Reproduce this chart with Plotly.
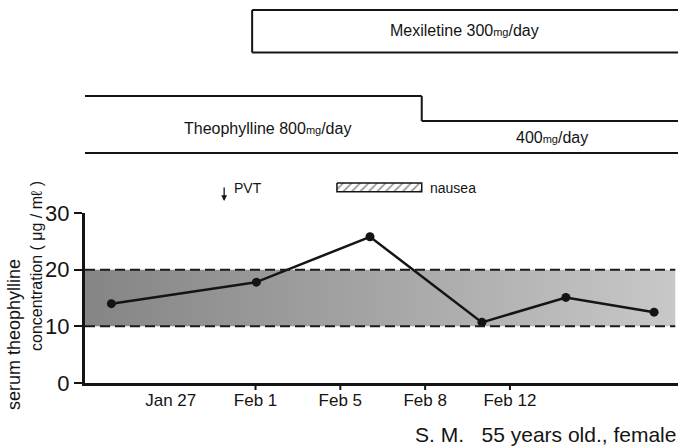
import plotly.graph_objects as go

# ---- data ----
tick_labels = ["Jan 27", "Feb 1", "Feb 5", "Feb 8", "Feb 12"]
tick_pos = [0, 1, 2, 3, 4]
sample_pos = [-0.70, 1.01, 2.35, 3.67, 4.66, 5.70]
theo_conc = [14.0, 17.8, 25.8, 10.7, 15.1, 12.5]
therapeutic_range = [10, 20]
y_ticks = [0, 10, 20, 30]
mexiletine_start = 0.96
theo_reduce = 2.96
pvt_pos = 0.63
nausea_span = [1.96, 2.96]

x_range = [-1.011, 5.982]
band_end = 5.95

W, H = 684, 448
ML, MR, MT, MB = 85, 6, 0, 65
PH = H - MT - MB  # 383


def py(p):
    return (PH - p) / PH


def px(p):
    return (p - ML) / (W - ML - MR)


NARROW = "Liberation Sans Narrow, Liberation Sans, Arial, sans-serif"
REG = "Liberation Sans, Arial, Helvetica, Noto Sans CJK JP, sans-serif"
INK = "#141414"

fig = go.Figure()

# therapeutic band with horizontal gradient
fig.add_trace(go.Scatter(
    x=[x_range[0], band_end, band_end, x_range[0], x_range[0]],
    y=[therapeutic_range[0], therapeutic_range[0], therapeutic_range[1], therapeutic_range[1], therapeutic_range[0]],
    mode="lines", line=dict(width=0), fill="toself",
    fillgradient=dict(type="horizontal",
                      colorscale=[[0, "#858585"], [0.45, "#a2a2a2"], [1, "#c8c8c8"]]),
    hoverinfo="skip", showlegend=False, xaxis="x", yaxis="y"))

# concentration line
fig.add_trace(go.Scatter(
    x=sample_pos, y=theo_conc, mode="lines+markers",
    line=dict(color=INK, width=2.5),
    marker=dict(color=INK, size=9),
    cliponaxis=False, showlegend=False, xaxis="x", yaxis="y"))

# nausea hatched box (on an invisible upper axis measured in pixels from top)
n_y0, n_y1 = 183, 191.7
fig.add_trace(go.Scatter(
    x=[nausea_span[0], nausea_span[1], nausea_span[1], nausea_span[0], nausea_span[0]],
    y=[n_y0, n_y0, n_y1, n_y1, n_y0],
    mode="lines", line=dict(color=INK, width=1.5), fill="toself",
    fillcolor="white",
    fillpattern=dict(shape="/", fgcolor=INK, bgcolor="white", size=6, solidity=0.25),
    hoverinfo="skip", showlegend=False, xaxis="x", yaxis="y2"))

shapes = []
# dashed range lines
for v in therapeutic_range:
    shapes.append(dict(type="line", xref="x", yref="y", x0=x_range[0], x1=band_end,
                       y0=v, y1=v, line=dict(color="#1a1a1a", width=2, dash="10px,5px")))
# x tick marks (none at Jan 27)
for t in tick_pos[1:]:
    shapes.append(dict(type="line", xref="x", yref="paper", x0=t, x1=t,
                       y0=0, y1=-7 / PH, line=dict(color=INK, width=2)))

lw = dict(color=INK, width=2)
# Mexiletine box
m_top, m_bot = py(10), py(52.5)
shapes += [
    dict(type="line", xref="x", yref="paper", x0=mexiletine_start, x1=x_range[1] + 0.1, y0=m_top, y1=m_top, line=lw),
    dict(type="line", xref="x", yref="paper", x0=mexiletine_start, x1=x_range[1] + 0.1, y0=m_bot, y1=m_bot, line=lw),
    dict(type="line", xref="x", yref="paper", x0=mexiletine_start, x1=mexiletine_start, y0=m_top, y1=m_bot, line=lw),
]
# Theophylline step
t_top, t_low, t_bot = py(96), py(121), py(153)
shapes += [
    dict(type="line", xref="x", yref="paper", x0=x_range[0] - 0.05, x1=theo_reduce, y0=t_top, y1=t_top, line=lw),
    dict(type="line", xref="x", yref="paper", x0=theo_reduce, x1=theo_reduce, y0=t_top, y1=t_low, line=lw),
    dict(type="line", xref="x", yref="paper", x0=theo_reduce, x1=x_range[1] + 0.1, y0=t_low, y1=t_low, line=lw),
    dict(type="line", xref="x", yref="paper", x0=x_range[0] - 0.05, x1=x_range[1] + 0.1, y0=t_bot, y1=t_bot, line=lw),
]

ann = []
C = dict(xanchor="center", yanchor="middle", showarrow=False)
mg = "<span style='font-size:11px'>mg</span>"
ann.append(dict(text=f"Mexiletine 300{mg}/day", xref="paper", yref="paper", x=px(464), y=py(31),
                font=dict(family=NARROW, size=16, color=INK), **C))
ann.append(dict(text=f"Theophylline 800{mg}/day", xref="paper", yref="paper", x=px(267.5), y=py(128),
                font=dict(family=NARROW, size=16, color=INK), **C))
ann.append(dict(text=f"400{mg}/day", xref="paper", yref="paper", x=px(552), y=py(137),
                font=dict(family=NARROW, size=16, color=INK), **C))
# PVT arrow
ann.append(dict(text="", xref="x", yref="paper", x=pvt_pos, y=py(201), ax=0, ay=-15,
                showarrow=True, arrowhead=2, arrowsize=0.9, arrowwidth=1.3, arrowcolor=INK))
ann.append(dict(text="PVT", xref="x", yref="paper", x=pvt_pos, y=py(188), xanchor="left", yanchor="middle",
                xshift=8, showarrow=False, font=dict(family=REG, size=14, color=INK)))
ann.append(dict(text="nausea", xref="x", yref="paper", x=nausea_span[1], y=py(188), xanchor="left",
                yanchor="middle", xshift=6, showarrow=False, font=dict(family=REG, size=14, color=INK)))
# y-axis title lines
ann.append(dict(text="serum theophylline", xref="paper", yref="paper", x=px(14), y=py(335),
                textangle=-90, font=dict(family=REG, size=18, color=INK), **C))
ann.append(dict(text="concentration ( μg / mℓ )", xref="paper", yref="paper", x=px(37), y=py(266),
                textangle=-90, font=dict(family=REG, size=16, color=INK), **C))
# footer
ann.append(dict(text="S. M.&nbsp;&nbsp;&nbsp;55 years old., female", xref="paper", yref="paper", x=px(678),
                y=py(434), xanchor="right", yanchor="middle", showarrow=False,
                font=dict(family=REG, size=21, color=INK)))

y_dom_top = 170 / PH
fig.update_layout(
    width=W, height=H, margin=dict(l=ML, r=MR, t=MT, b=MB, pad=0), autosize=False,
    paper_bgcolor="white", plot_bgcolor="rgba(0,0,0,0)",
    shapes=shapes, annotations=ann, showlegend=False,
    xaxis=dict(range=x_range, tickvals=tick_pos, ticktext=tick_labels, ticks="",
               showgrid=False, zeroline=False,
               showline=True, linecolor=INK, linewidth=3, anchor="y", automargin=False,
               tickfont=dict(family=NARROW, size=17, color=INK)),
    yaxis=dict(domain=[0, y_dom_top], range=[0, 30], tickvals=y_ticks, ticks="outside",
               ticklen=8, tickwidth=2, tickcolor=INK, showgrid=False, zeroline=False,
               showline=True, linecolor=INK, linewidth=3, automargin=False,
               tickfont=dict(family=NARROW, size=22, color=INK)),
    yaxis2=dict(domain=[y_dom_top, 1], range=[PH - y_dom_top * PH, 0], visible=False,
                anchor="x", showgrid=False, zeroline=False, automargin=False),
)

fig.write_html("out.html", config={"responsive": False, "displayModeBar": False},
               post_script="document.body.style.margin='0';document.body.style.overflow='hidden';")
